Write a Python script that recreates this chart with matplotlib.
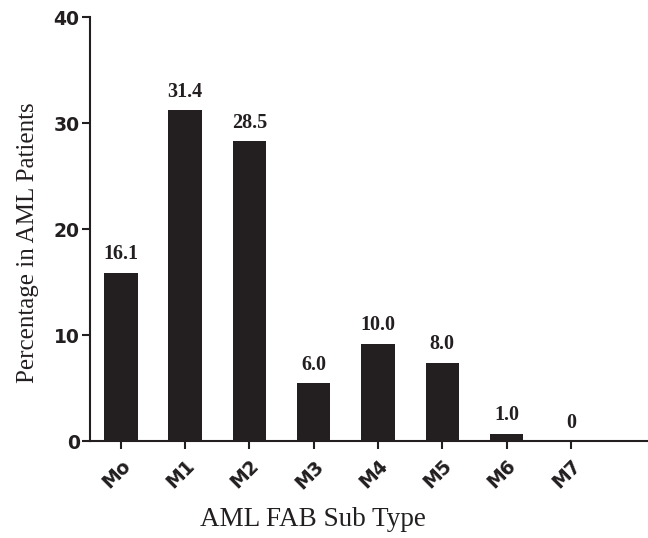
import matplotlib
matplotlib.use("Agg")
import matplotlib.pyplot as plt
import matplotlib.transforms as mtransforms

# FAB sub types and percentage of AML patients
subtypes = ['Mo', 'M1', 'M2', 'M3', 'M4', 'M5', 'M6', 'M7']
bar_heights = [15.9, 31.2, 28.3, 5.5, 9.2, 7.4, 0.7, 0.0]
bar_labels = ['16.1', '31.4', '28.5', '6.0', '10.0', '8.0', '1.0', '0']
y_ticks = [0, 10, 20, 30, 40]

dark = '#231f20'

fig = plt.figure(figsize=(6.48, 5.38), dpi=100)
ax = fig.add_axes([0.139, 0.180, 0.861, 0.788])

x = list(range(len(subtypes)))
ax.bar(x, bar_heights, width=0.52, color=dark)

for xi, h, lab in zip(x, bar_heights, bar_labels):
    ax.annotate(lab, (xi, h), xytext=(0, 6), textcoords='offset points',
                ha='center', va='bottom', fontsize=14.5, fontweight='bold',
                family='Liberation Serif', color=dark)

ax.set_xlim(-0.48, 8.2)
ax.set_ylim(0, 40)
ax.set_yticks(y_ticks)
ax.set_xticks(x)
ax.set_xticklabels(subtypes, rotation=45, ha='right', va='top',
                   rotation_mode='anchor', fontsize=13.5, fontweight='bold',
                   family='DejaVu Sans', color=dark)
# nudge the rotated labels a bit to the left
shift = mtransforms.ScaledTranslation(-5 / 100, 0, fig.dpi_scale_trans)
for t in ax.get_xticklabels():
    t.set_transform(t.get_transform() + shift)
for t in ax.get_yticklabels():
    t.set_fontsize(13.5)
    t.set_fontweight('bold')
    t.set_family('DejaVu Sans')
    t.set_color(dark)

ax.spines['top'].set_visible(False)
ax.spines['right'].set_visible(False)
for s in ['left', 'bottom']:
    ax.spines[s].set_linewidth(1.5)
    ax.spines[s].set_color(dark)
ax.tick_params(axis='both', direction='out', length=6, width=1.5, color=dark)
ax.tick_params(axis='x', pad=5)
ax.tick_params(axis='y', pad=1.5)

ax.set_xlabel('AML FAB Sub Type', family='Liberation Serif', fontsize=19.5,
              color=dark)
ax.set_ylabel('Percentage in AML Patients', family='Liberation Serif',
              fontsize=18, color=dark)
ax.xaxis.set_label_coords(0.40, -0.184)
ax.yaxis.set_label_coords(-0.112, 0.469)
ax.xaxis.label.set_va('center')
ax.yaxis.label.set_va('center')

fig.savefig('out.png', dpi=100)
